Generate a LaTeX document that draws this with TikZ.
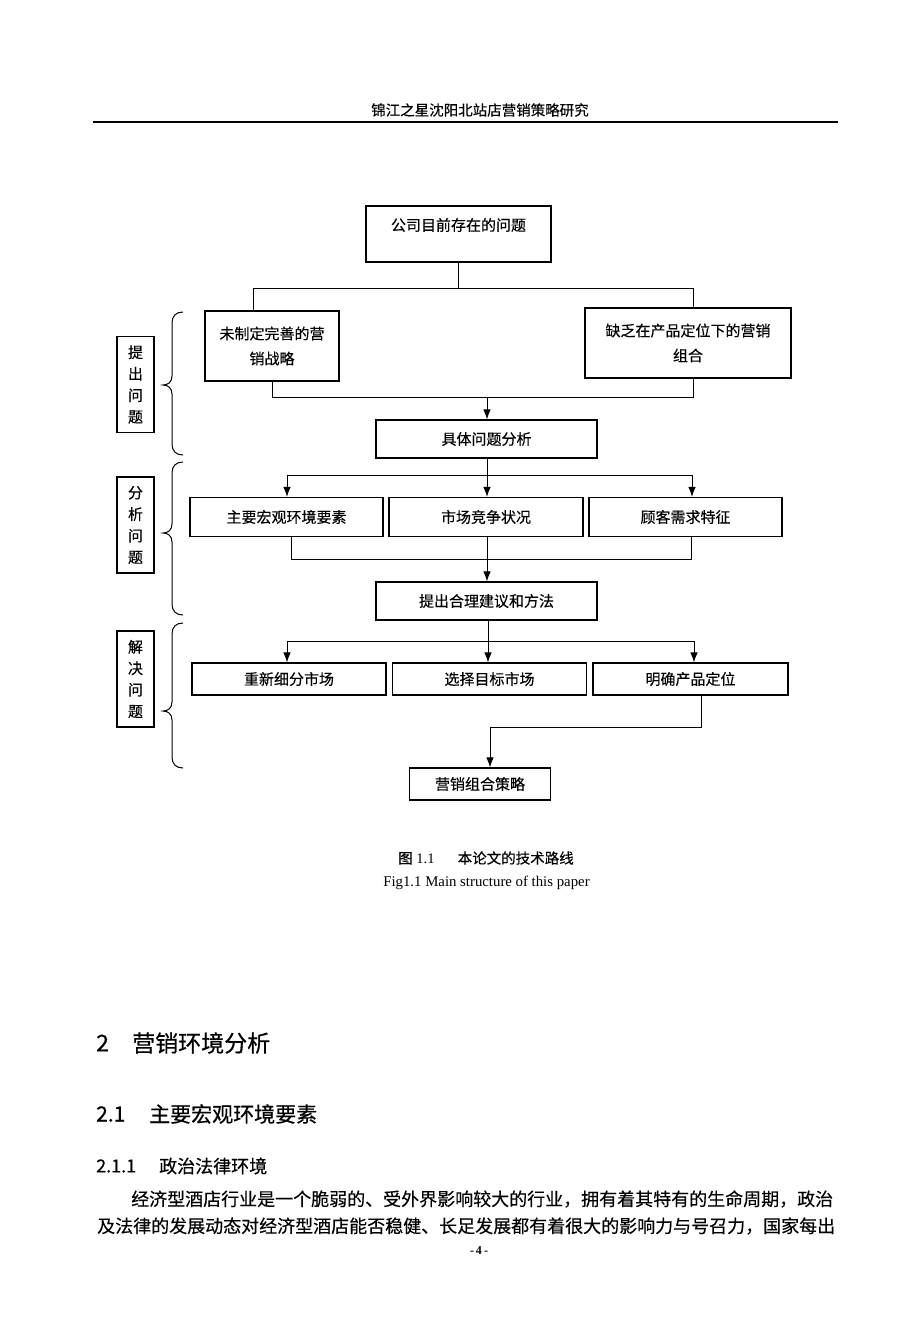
\documentclass[tikz,border=0pt]{standalone}
\usepackage{fontspec}
\setmainfont{Liberation Serif}
\newfontfamily\cjk{Noto Sans CJK SC}
\newfontfamily\cjkm[FakeBold=0.25]{Noto Sans CJK SC}
\newfontfamily\cjkh[FakeBold=0.6]{Noto Sans CJK SC}
\usetikzlibrary{arrows.meta}
\newcommand\drawbrace[3]{%
  \draw[brc] (183,#1) .. controls (176,#1) and (172,#1+4) .. (172,#1+11)
    -- (172,#2-9) .. controls (172,#2-3) and (168,#2) .. (163,#2)
    .. controls (168,#2) and (172,#2+3) .. (172,#2+9)
    -- (172,#3-11) .. controls (172,#3-4) and (176,#3) .. (183,#3);}
\begin{document}
\begin{tikzpicture}[x=1pt,y=-1pt,
  box/.style={draw, line width=1.2pt, inner sep=0pt, align=center,
    font=\cjkm\fontsize{15}{25}\selectfont},
  sidebox/.style={draw, line width=1.2pt, inner sep=0pt, align=center,
    minimum width=37pt, font=\cjkm\fontsize{15}{21.5}\selectfont},
  txt/.style={inner sep=0pt, font=\cjkm\fontsize{15}{25}\selectfont},
  ln/.style={line width=0.9pt},
  arr/.style={line width=0.9pt, -{Latex[length=10pt,width=7.5pt]}},
  brc/.style={line width=1pt}]
\useasboundingbox[fill=white] (0,0) rectangle (920,1344);

% page header
\node[inner sep=0pt, font=\cjkm\fontsize{14.5}{16}\selectfont] (hdr) at (480,110) {锦江之星沈阳北站店营销策略研究};
\coordinate (hl) at (93,122);
\coordinate (hr) at (838,122);
\draw[line width=1.6pt] (hl) -- (hr);

% boxes
\node[box, minimum width=185pt, minimum height=56pt] (p0) at (458.5,234) {};
\node[txt] (p0t) at (458.5,225) {公司目前存在的问题};
\node[box, minimum width=134pt, minimum height=70pt] (p1) at (272,346) {未制定完善的营\\销战略};
\node[box, minimum width=206pt, minimum height=70pt] (p2) at (688,343) {缺乏在产品定位下的营销\\组合};
\node[box, minimum width=221pt, minimum height=38pt] (p3) at (486.5,439) {具体问题分析};
\node[box, minimum width=193pt, minimum height=39pt] (p4) at (286.5,517) {主要宏观环境要素};
\node[box, minimum width=194pt, minimum height=39pt] (p5) at (486,517) {市场竞争状况};
\node[box, minimum width=193pt, minimum height=39pt] (p6) at (685.5,517) {顾客需求特征};
\node[box, minimum width=221pt, minimum height=38pt] (p7) at (486.5,601) {提出合理建议和方法};
\node[box, minimum width=194pt, minimum height=32pt] (p8) at (289,679) {重新细分市场};
\node[box, minimum width=194pt, minimum height=32pt] (p9) at (489.5,679) {选择目标市场};
\node[box, minimum width=195pt, minimum height=32pt] (p10) at (690.5,679) {明确产品定位};
\node[box, minimum width=141pt, minimum height=32pt] (p11) at (480,784) {营销组合策略};

% level 1 fork
\coordinate (f0) at (458.5,288);
\coordinate (fL) at (253,288);
\coordinate (fR) at (693,288);
\draw[ln] (p0.south) -- (f0);
\draw[ln] (fL) -- (fR);
\draw[ln] (fL) -- (fL |- p1.north);
\draw[ln] (fR) -- (fR |- p2.north);
% merge to p3
\coordinate (mL) at (272,397);
\coordinate (mR) at (693,397);
\coordinate (m0) at (487,397);
\draw[ln] (p1.south) -- (mL) -- (mR) -- (mR |- p2.south);
\draw[arr] (m0) -- (m0 |- p3.north);

% level 2 fork
\coordinate (g0) at (487,475);
\coordinate (gL) at (287,475);
\coordinate (gR) at (692,475);
\draw[ln] (gL) -- (gR);
\draw[arr] (p3.south -| g0) -- (g0 |- p5.north);
\draw[arr] (gL) -- (gL |- p4.north);
\draw[arr] (gR) -- (gR |- p6.north);
% merge to p7
\coordinate (nL) at (291,559);
\coordinate (nR) at (691,559);
\coordinate (n0) at (487,559);
\draw[ln] (nL |- p4.south) -- (nL) -- (nR) -- (nR |- p6.south);
\draw[arr] (p5.south -| n0) -- (n0 |- p7.north);

% level 3 fork
\coordinate (k0) at (488,641);
\coordinate (kL) at (287,641);
\coordinate (kR) at (694,641);
\draw[ln] (kL) -- (kR);
\draw[arr] (p7.south -| k0) -- (k0 |- p9.north);
\draw[arr] (kL) -- (kL |- p8.north);
\draw[arr] (kR) -- (kR |- p10.north);
% to p11
\coordinate (qR) at (701,727);
\coordinate (qL) at (490,727);
\draw[ln] (qR |- p10.south) -- (qR) -- (qL);
\draw[arr] (qL) -- (qL |- p11.north);

% side labels
\node[sidebox, minimum height=96pt] (s1) at (135.5,384.5) {提\\出\\问\\题};
\node[sidebox, minimum height=96pt] (s2) at (135.5,525) {分\\析\\问\\题};
\node[sidebox, minimum height=96pt] (s3) at (135.5,679) {解\\决\\问\\题};
\drawbrace{312}{385}{455}
\drawbrace{462}{533}{615}
\drawbrace{623}{711}{768}

% caption
\node[inner sep=0pt, font=\fontsize{14.5}{16}\selectfont] (cap1) at (486,858) {{\cjkm 图} 1.1\hspace{1.6em}{\cjkm 本论文的技术路线}};
\node[inner sep=0pt, font=\fontsize{14.8}{16}\selectfont] (cap2) at (486.5,883) {Fig1.1 Main structure of this paper};

% headings
\node[anchor=west, inner sep=0pt, font=\cjkh\fontsize{23}{26}\selectfont] (h2n) at (96,1043) {2};
\node[anchor=west, inner sep=0pt, font=\cjkh\fontsize{23}{26}\selectfont] (h2t) at (132,1043) {营销环境分析};
\node[anchor=west, inner sep=0pt, font=\cjkh\fontsize{21}{24}\selectfont] (h21n) at (96,1114) {2.1};
\node[anchor=west, inner sep=0pt, font=\cjkh\fontsize{21}{24}\selectfont] (h21t) at (149,1114) {主要宏观环境要素};
\node[anchor=west, inner sep=0pt, font=\cjkh\fontsize{18}{20}\selectfont] (h211n) at (96,1166) {2.1.1};
\node[anchor=west, inner sep=0pt, font=\cjkh\fontsize{18}{20}\selectfont] (h211t) at (159,1166) {政治法律环境};

% paragraph
\node[anchor=west, inner sep=0pt, font=\cjkm\fontsize{18}{20}\selectfont] (pa1) at (131,1199) {经济型酒店行业是一个脆弱的、受外界影响较大的行业，拥有着其特有的生命周期，政治};
\node[anchor=west, inner sep=0pt, font=\cjkm\fontsize{18}{20}\selectfont] (pa2) at (97,1226) {及法律的发展动态对经济型酒店能否稳健、长足发展都有着很大的影响力与号召力，国家每出};
\node[inner sep=0pt, font=\bfseries\fontsize{12}{14}\selectfont] (pg) at (479,1251) {-\,4\,-};
\end{tikzpicture}
\end{document}
